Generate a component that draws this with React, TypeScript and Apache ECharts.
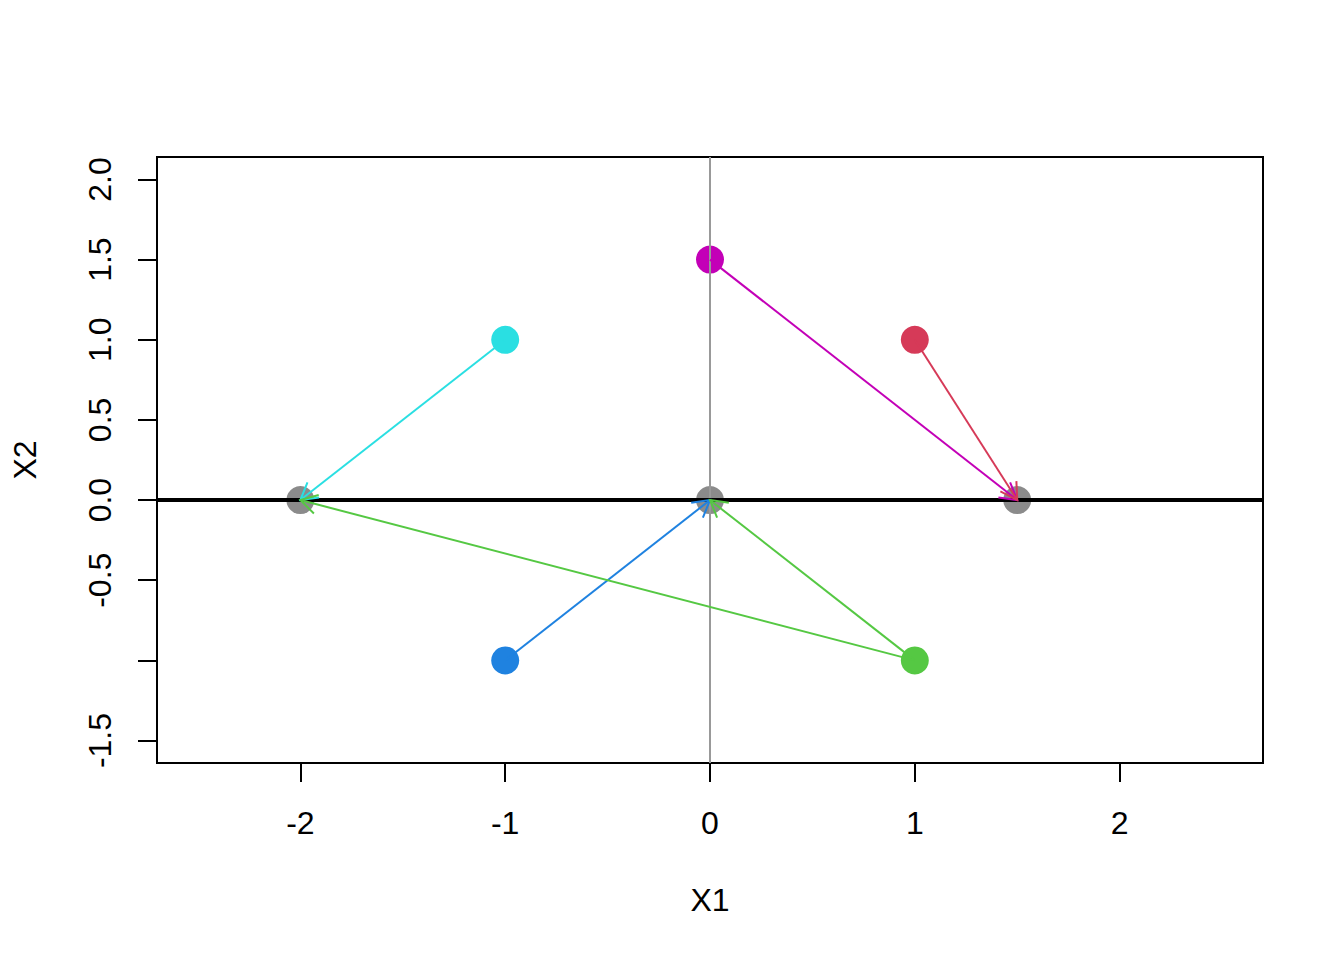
import React, { useEffect, useRef } from "react";
import * as echarts from "echarts";

// Colored source points
const pointX = [-1, 0, 1, -1, 1];
const pointY = [1, 1.5, 1, -1, -1];
const pointColors = ["#2ADFE2", "#C300B7", "#D63A58", "#1F82E0", "#55C843"];

// Gray target points
const targetX = [-2, 0, 1.5];
const targetY = [0, 0, 0];

// Arrows: from (x0,y0) to (x1,y1)
const arrowX0 = [-1, 0, 1, -1, 1, 1];
const arrowY0 = [1, 1.5, 1, -1, -1, -1];
const arrowX1 = [-2, 1.5, 1.5, 0, 0, -2];
const arrowY1 = [0, 0, 0, 0, 0, 0];
const arrowColors = ["#2ADFE2", "#C300B7", "#D63A58", "#1F82E0", "#55C843", "#55C843"];

// Axis ticks
const xTicks = [-2, -1, 0, 1, 2];
const yTicks = [-1.5, -1, -0.5, 0, 0.5, 1, 1.5, 2];
const yTickLabels = [-1.5, -0.5, 0, 0.5, 1, 1.5, 2];

const FONT = "'Liberation Sans', Arial, Helvetica, sans-serif";
const FS = 32;

export default function App() {
  const ref = useRef<HTMLDivElement>(null);
  useEffect(() => {
    if (!ref.current) return;
    const chart = echarts.init(ref.current, undefined, { renderer: "svg" });
    const arrowData = arrowX0.map((x, i) => [x, arrowY0[i], arrowX1[i], arrowY1[i]]);
    const headLen = 19;
    const headAng = Math.PI / 6;
    chart.setOption({
      animation: false,
      backgroundColor: "#ffffff",
      textStyle: { fontFamily: FONT },
      grid: {
        left: 157,
        right: 81,
        top: 157,
        bottom: 197,
        show: true,
        borderColor: "#000",
        borderWidth: 2,
        containLabel: false,
      },
      xAxis: {
        type: "value",
        min: -2.7,
        max: 2.7,
        name: "X1",
        nameLocation: "middle",
        nameGap: 121,
        nameTextStyle: { fontSize: FS, color: "#000", fontFamily: FONT },
        axisLine: { show: false, onZero: false },
        splitLine: { show: false },
        axisTick: {
          show: true,
          length: 19,
          inside: false,
          customValues: xTicks,
          lineStyle: { color: "#000", width: 2 },
        },
        axisLabel: {
          customValues: xTicks,
          margin: 44,
          fontSize: FS,
          color: "#000",
          fontFamily: FONT,
          formatter: (v: number) => String(v),
        },
      },
      yAxis: {
        type: "value",
        min: -1.64,
        max: 2.14,
        name: "X2",
        nameLocation: "middle",
        nameGap: 116,
        nameRotate: 90,
        nameTextStyle: { fontSize: FS, color: "#000", fontFamily: FONT },
        axisLine: { show: false, onZero: false },
        splitLine: { show: false },
        axisTick: {
          show: true,
          length: 19,
          inside: false,
          customValues: yTicks,
          lineStyle: { color: "#000", width: 2 },
        },
        axisLabel: {
          customValues: yTickLabels,
          margin: 41,
          rotate: 90,
          fontSize: FS,
          color: "#000",
          fontFamily: FONT,
          formatter: (v: number) => v.toFixed(1),
        },
      },
      series: [
        {
          type: "scatter",
          z: 2,
          symbol: "circle",
          symbolSize: 28,
          data: pointX.map((x, i) => ({
            value: [x, pointY[i]],
            itemStyle: { color: pointColors[i], opacity: 1 },
          })),
          silent: true,
        },
        {
          type: "line",
          z: 3,
          data: [],
          markLine: {
            silent: true,
            symbol: ["none", "none"],
            label: { show: false },
            data: [
              { xAxis: 0, lineStyle: { color: "#999999", width: 2, type: "solid" } },
              { yAxis: 0, lineStyle: { color: "#000000", width: 4, type: "solid" } },
            ],
          },
        },
        {
          type: "scatter",
          z: 4,
          symbol: "circle",
          symbolSize: 28,
          itemStyle: { color: "#8B8B8B", opacity: 1 },
          data: targetX.map((x, i) => [x, targetY[i]]),
          silent: true,
        },
        {
          type: "custom",
          z: 5,
          silent: true,
          encode: { x: [0, 2], y: [1, 3] },
          data: arrowData,
          renderItem: (params: any, api: any) => {
            const p0 = api.coord([api.value(0), api.value(1)]);
            const p1 = api.coord([api.value(2), api.value(3)]);
            const ang = Math.atan2(p1[1] - p0[1], p1[0] - p0[0]);
            const h1 = [
              p1[0] - headLen * Math.cos(ang - headAng),
              p1[1] - headLen * Math.sin(ang - headAng),
            ];
            const h2 = [
              p1[0] - headLen * Math.cos(ang + headAng),
              p1[1] - headLen * Math.sin(ang + headAng),
            ];
            const color = arrowColors[params.dataIndex];
            return {
              type: "group",
              children: [
                {
                  type: "line",
                  shape: { x1: p0[0], y1: p0[1], x2: p1[0], y2: p1[1] },
                  style: { stroke: color, lineWidth: 2 },
                },
                {
                  type: "polyline",
                  shape: { points: [h1, p1, h2] },
                  style: { stroke: color, fill: "none", lineWidth: 2 },
                },
              ],
            };
          },
        },
      ],
    });
    return () => chart.dispose();
  }, []);
  return (
    <div
      ref={ref}
      style={{ position: "fixed", left: 0, top: 0, width: 1344, height: 960, background: "#fff" }}
    />
  );
}
